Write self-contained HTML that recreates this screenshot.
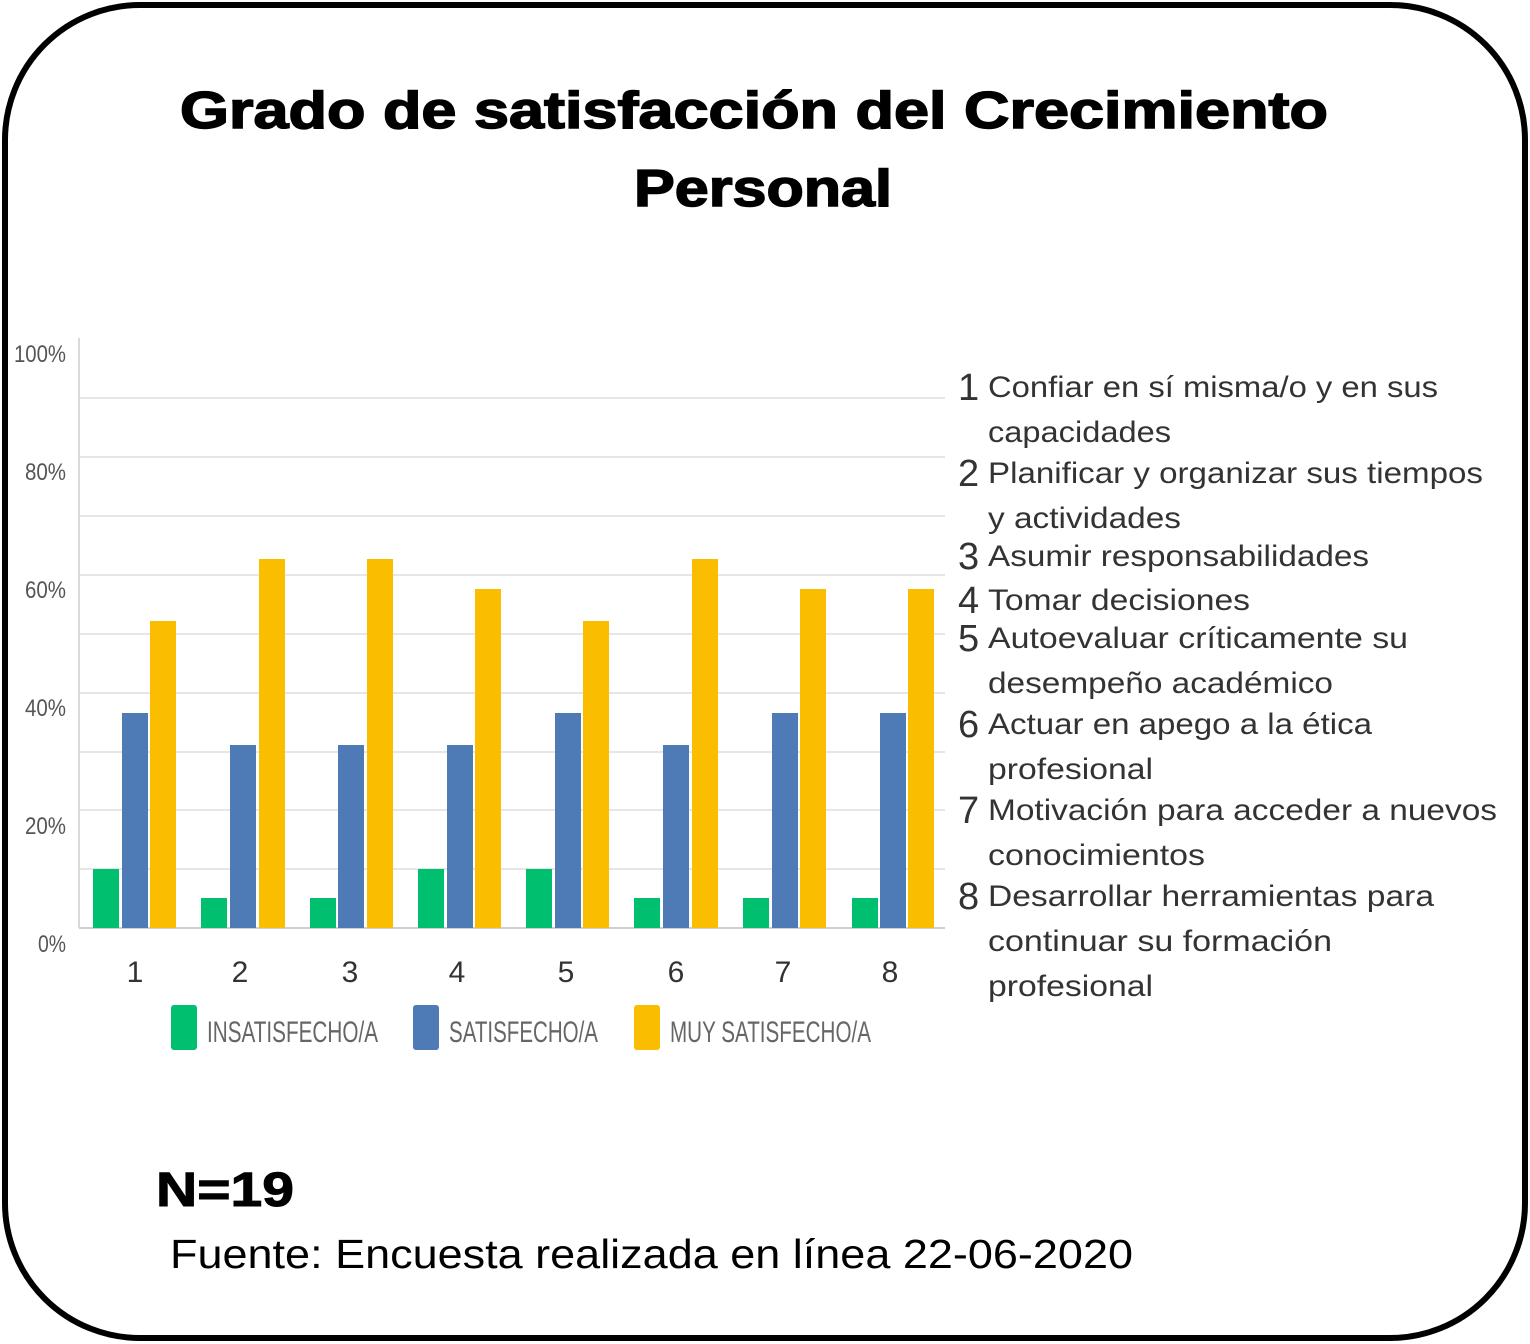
<!DOCTYPE html>
<html><head><meta charset="utf-8"><style>
body{margin:0;background:#fff;}
svg{display:block;}
</style></head><body>
<svg width="1530" height="1344" viewBox="0 0 1530 1344" xmlns="http://www.w3.org/2000/svg" font-family="Liberation Sans, sans-serif">
<rect x="5" y="5" width="1520" height="1333" rx="135" ry="135" fill="#fff" stroke="#000" stroke-width="6"/>
<text x="754" y="128" text-anchor="middle" font-size="52" font-weight="bold" stroke="#000" stroke-width="1.5" textLength="1148" lengthAdjust="spacingAndGlyphs">Grado de satisfacción del Crecimiento</text>
<text x="763" y="206" text-anchor="middle" font-size="52" font-weight="bold" stroke="#000" stroke-width="1.5" textLength="258" lengthAdjust="spacingAndGlyphs">Personal</text>
<g stroke="#e6e6e6" stroke-width="2">
<line x1="79" x2="945" y1="398" y2="398"/><line x1="79" x2="945" y1="457" y2="457"/>
<line x1="79" x2="945" y1="516" y2="516"/><line x1="79" x2="945" y1="575" y2="575"/>
<line x1="79" x2="945" y1="634" y2="634"/><line x1="79" x2="945" y1="693" y2="693"/>
<line x1="79" x2="945" y1="752" y2="752"/><line x1="79" x2="945" y1="810" y2="810"/>
<line x1="79" x2="945" y1="869" y2="869"/>
</g>
<line x1="79" x2="79" y1="338" y2="928" stroke="#d9d9d9" stroke-width="2"/>
<line x1="79" x2="945" y1="928" y2="928" stroke="#d0d0d0" stroke-width="2"/>
<g font-size="24" fill="#555" lengthAdjust="spacingAndGlyphs">
<text x="14" y="362" textLength="52" lengthAdjust="spacingAndGlyphs">100%</text>
<text x="25" y="480" textLength="41" lengthAdjust="spacingAndGlyphs">80%</text>
<text x="25" y="598" textLength="41" lengthAdjust="spacingAndGlyphs">60%</text>
<text x="25" y="716" textLength="41" lengthAdjust="spacingAndGlyphs">40%</text>
<text x="25" y="834" textLength="41" lengthAdjust="spacingAndGlyphs">20%</text>
<text x="38" y="952" textLength="28" lengthAdjust="spacingAndGlyphs">0%</text>
</g>
<g>
<rect x="93" y="869" width="26" height="59" fill="#00bf6f"/><rect x="122" y="713" width="26" height="215" fill="#4e7ab5"/><rect x="150" y="621" width="26" height="307" fill="#fbbd00"/>
<rect x="201" y="898" width="26" height="30" fill="#00bf6f"/><rect x="230" y="745" width="26" height="183" fill="#4e7ab5"/><rect x="259" y="559" width="26" height="369" fill="#fbbd00"/>
<rect x="310" y="898" width="26" height="30" fill="#00bf6f"/><rect x="338" y="745" width="26" height="183" fill="#4e7ab5"/><rect x="367" y="559" width="26" height="369" fill="#fbbd00"/>
<rect x="418" y="869" width="26" height="59" fill="#00bf6f"/><rect x="447" y="745" width="26" height="183" fill="#4e7ab5"/><rect x="475" y="589" width="26" height="339" fill="#fbbd00"/>
<rect x="526" y="869" width="26" height="59" fill="#00bf6f"/><rect x="555" y="713" width="26" height="215" fill="#4e7ab5"/><rect x="583" y="621" width="26" height="307" fill="#fbbd00"/>
<rect x="634" y="898" width="26" height="30" fill="#00bf6f"/><rect x="663" y="745" width="26" height="183" fill="#4e7ab5"/><rect x="692" y="559" width="26" height="369" fill="#fbbd00"/>
<rect x="743" y="898" width="26" height="30" fill="#00bf6f"/><rect x="772" y="713" width="26" height="215" fill="#4e7ab5"/><rect x="800" y="589" width="26" height="339" fill="#fbbd00"/>
<rect x="852" y="898" width="26" height="30" fill="#00bf6f"/><rect x="880" y="713" width="26" height="215" fill="#4e7ab5"/><rect x="908" y="589" width="26" height="339" fill="#fbbd00"/>
</g>
<g font-size="30" fill="#333" text-anchor="middle">
<text x="135" y="982">1</text><text x="240" y="982">2</text><text x="350" y="982">3</text><text x="457" y="982">4</text>
<text x="566" y="982">5</text><text x="676" y="982">6</text><text x="783" y="982">7</text><text x="890" y="982">8</text>
</g>
<rect x="171" y="1005" width="26" height="45" rx="3" fill="#00bf6f"/>
<rect x="413" y="1005" width="26" height="45" rx="3" fill="#4e7ab5"/>
<rect x="634" y="1005" width="26" height="45" rx="3" fill="#fbbd00"/>
<g font-size="30" fill="#666">
<text x="207" y="1042" textLength="171" lengthAdjust="spacingAndGlyphs">INSATISFECHO/A</text>
<text x="449" y="1042" textLength="149" lengthAdjust="spacingAndGlyphs">SATISFECHO/A</text>
<text x="670" y="1042" textLength="201" lengthAdjust="spacingAndGlyphs">MUY SATISFECHO/A</text>
</g>
<g font-size="38" fill="#333">
<text x="958" y="400">1</text><text x="958" y="486">2</text><text x="958" y="569">3</text><text x="958" y="613">4</text>
<text x="958" y="651">5</text><text x="958" y="737">6</text><text x="958" y="823">7</text><text x="958" y="909">8</text>
</g>
<g font-size="30" fill="#333">
<text x="988" y="397" textLength="450" lengthAdjust="spacingAndGlyphs">Confiar en sí misma/o y en sus</text>
<text x="988" y="442" textLength="183" lengthAdjust="spacingAndGlyphs">capacidades</text>
<text x="988" y="483" textLength="495" lengthAdjust="spacingAndGlyphs">Planificar y organizar sus tiempos</text>
<text x="988" y="528" textLength="193" lengthAdjust="spacingAndGlyphs">y actividades</text>
<text x="988" y="566" textLength="381" lengthAdjust="spacingAndGlyphs">Asumir responsabilidades</text>
<text x="988" y="610" textLength="262" lengthAdjust="spacingAndGlyphs">Tomar decisiones</text>
<text x="988" y="648" textLength="420" lengthAdjust="spacingAndGlyphs">Autoevaluar críticamente su</text>
<text x="988" y="693" textLength="345" lengthAdjust="spacingAndGlyphs">desempeño académico</text>
<text x="988" y="734" textLength="384" lengthAdjust="spacingAndGlyphs">Actuar en apego a la ética</text>
<text x="988" y="779" textLength="165" lengthAdjust="spacingAndGlyphs">profesional</text>
<text x="988" y="820" textLength="509" lengthAdjust="spacingAndGlyphs">Motivación para acceder a nuevos</text>
<text x="988" y="865" textLength="217" lengthAdjust="spacingAndGlyphs">conocimientos</text>
<text x="988" y="906" textLength="446" lengthAdjust="spacingAndGlyphs">Desarrollar herramientas para</text>
<text x="988" y="951" textLength="344" lengthAdjust="spacingAndGlyphs">continuar su formación</text>
<text x="988" y="996" textLength="165" lengthAdjust="spacingAndGlyphs">profesional</text>
</g>
<text x="156" y="1206" font-size="48" font-weight="bold" stroke="#000" stroke-width="1" textLength="138" lengthAdjust="spacingAndGlyphs">N=19</text>
<text x="170" y="1268" font-size="41" textLength="963" lengthAdjust="spacingAndGlyphs">Fuente: Encuesta realizada en línea 22-06-2020</text>
</svg>
</body></html>
